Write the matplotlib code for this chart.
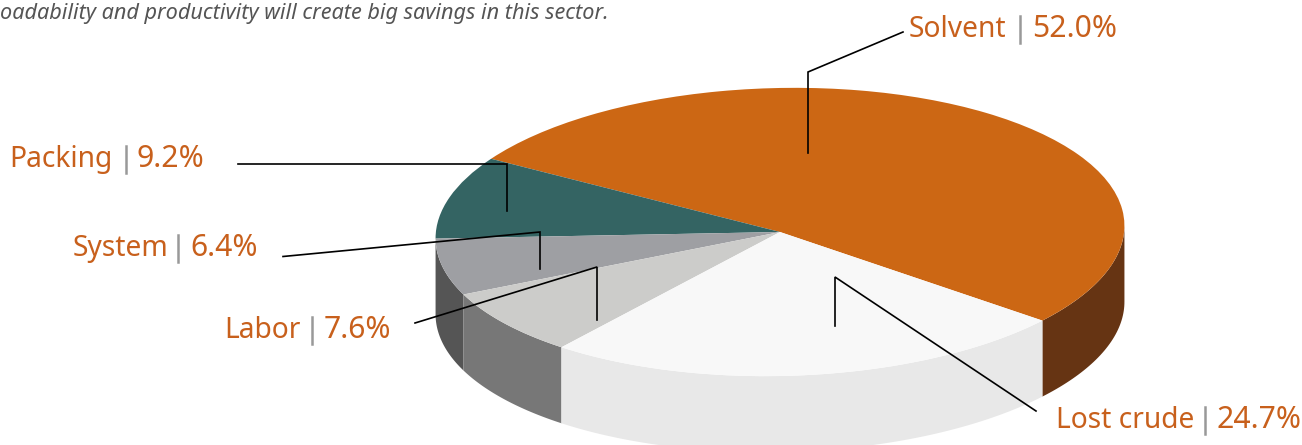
import numpy as np
import matplotlib
matplotlib.use('Agg')
import matplotlib.pyplot as plt
from matplotlib.transforms import Affine2D

categories = ['Solvent', 'Packing', 'System', 'Labor', 'Lost crude']
shares = [52.0, 9.2, 6.4, 7.6, 24.7]
top_colors = ['#CC6714', '#346463', '#9E9FA3', '#CCCCCA', '#F8F8F8']
side_colors = ['#663413', '#555555', '#555555', '#777777', '#E8E8E8']

W, H = 1302, 445
plt.rcParams['font.family'] = ['Noto Sans', 'DejaVu Sans']
fig = plt.figure(figsize=(W / 100, H / 100), dpi=100)

ax = fig.add_axes([0, 0, 1, 1])
ax.set_xlim(0, W)
ax.set_ylim(H, 0)
ax.axis('off')

# unit pie squashed and slightly tilted, in figure pixels
top_tf = Affine2D().scale(344.5, 144).rotate_deg(1.25).translate(780, H - 232)
side_tf = top_tf + Affine2D().translate(0, -76)

ax_pie = fig.add_axes([0, 0, 1, 1], zorder=1)
ax_pie.axis('off')
wedges, _ = ax_pie.pie(shares, colors=top_colors, startangle=-40.9, radius=1,
                       wedgeprops={'linewidth': 0})
for w in wedges:
    w.set_transform(top_tf)
    w.set_clip_on(False)

# side wall, only the front half can be seen
for w, c in zip(wedges, side_colors):
    a = np.radians(np.linspace(w.theta1, w.theta2, 200)) % (2 * np.pi)
    a = np.sort(a[a >= np.radians(179.5)])
    if len(a) < 2:
        continue
    xs = np.cos(a)
    ys = np.sin(a)
    top_edge = top_tf.transform(np.c_[xs, ys])
    bottom_edge = side_tf.transform(np.c_[xs, ys])[::-1]
    ring = np.r_[top_edge, bottom_edge]
    ax_pie.fill(ring[:, 0], ring[:, 1], color=c, lw=0, zorder=0, clip_on=False,
                transform=None)

# overlay for labels and leader lines
ax.set_zorder(2)
ax.patch.set_alpha(0)

leaders = [
    [(903, 32), (808, 72), (808, 153)],
    [(238, 164), (507, 164), (507, 211)],
    [(283, 256.5), (540, 232), (540, 269)],
    [(415, 323), (597, 267), (597, 320)],
    [(1036, 411), (835, 277), (835, 326)],
]
for pts in leaders:
    ax.plot([p[0] for p in pts], [p[1] for p in pts], color='black', lw=1.2,
            solid_joinstyle='miter')

# name x, pipe x, value x, baseline y
label_pos = [
    (909, 1020, 1032, 37),
    (9, 126, 137, 167),
    (73, 178, 190, 256),
    (224, 312, 324, 338),
    (1056, 1205, 1217, 428),
]
orange = '#C8601C'
for name, val, (x1, x2, x3, y) in zip(categories, shares, label_pos):
    ax.text(x1, y, name, color=orange, fontsize=20.3, va='baseline', ha='left')
    ax.plot([x2, x2], [y - 21, y + 6], color='#999999', lw=1.8)
    ax.text(x3, y, f'{val}%', color=orange, fontsize=21.7, va='baseline', ha='left')

ax.text(0, 19, 'oadability and productivity will create big savings in this sector.',
        color='#555555', fontsize=15.6, style='italic', va='baseline', ha='left')

fig.savefig('out.png', dpi=100)
